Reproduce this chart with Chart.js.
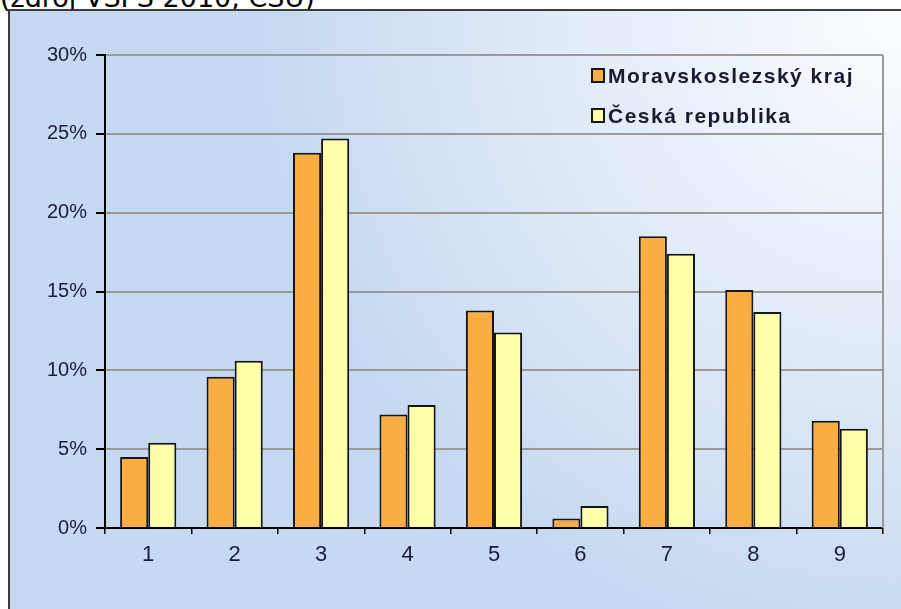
<!DOCTYPE html>
<html>
<head>
<meta charset="utf-8">
<script src="https://cdn.jsdelivr.net/npm/chart.js@4"></script>
<style>
  html, body { margin: 0; padding: 0; width: 901px; height: 609px; overflow: hidden; background: #fff; }
  #src {
    position: absolute; left: 0; top: -18px;
    font: 27px "DejaVu Sans", Verdana, sans-serif; color: #000; white-space: nowrap;
  }
  #box {
    position: absolute; left: 8px; top: 9px; width: 1000px; height: 700px;
    border-left: 2px solid #3c3c3c; border-top: 2px solid #3c3c3c;
    background: radial-gradient(circle at 893px 0px, #fbfdff 0px, #e6eef9 280px, #c6d9f0 640px);
  }
  #wrap { position: absolute; left: 0; top: 0; width: 901px; height: 609px; }
</style>
</head>
<body>
<div id="src">(zdroj VŠPS 2010, ČSÚ)</div>
<div id="box"></div>
<div id="wrap"><canvas id="chart" width="901" height="609"></canvas></div>
<script>
const categories = ["1", "2", "3", "4", "5", "6", "7", "8", "9"];
const seriesNames = ["Moravskoslezský kraj", "Česká republika"];
const moravskoslezsky = [4.5, 9.6, 23.8, 7.2, 13.8, 0.6, 18.5, 15.1, 6.8];
const ceskaRepublika = [5.4, 10.6, 24.7, 7.8, 12.4, 1.4, 17.4, 13.7, 6.3];
const yTicks = [0, 5, 10, 15, 20, 25, 30];

const orange = "#fcad40";
const paleYellow = "#ffffaa";
const outline = "#161616";
const tickText = "#1c1c38";
const sans = "'Liberation Sans', Arial, sans-serif";

// legend drawn inside the plot, top right, like the original
const innerLegend = {
  id: "innerLegend",
  afterDraw(chart) {
    const ctx = chart.ctx;
    const items = chart.data.datasets;
    ctx.save();
    ctx.font = "bold 21px " + sans;
    ctx.letterSpacing = "1.5px";
    ctx.textBaseline = "alphabetic";
    ctx.textAlign = "left";
    items.forEach((ds, i) => {
      const y = 69 + i * 40;
      ctx.fillStyle = ds.backgroundColor;
      ctx.fillRect(592, y, 12, 13);
      ctx.lineWidth = 2;
      ctx.strokeStyle = outline;
      ctx.strokeRect(592, y, 12, 13);
      ctx.fillStyle = "#1a1a30";
      ctx.fillText(ds.label, 608, y + 14);
    });
    ctx.restore();
  },
};

// grey right edge of the plot area
const plotFrame = {
  id: "plotFrame",
  beforeDatasetsDraw(chart) {
    const { ctx, chartArea } = chart;
    ctx.save();
    ctx.strokeStyle = "#9a9a9a";
    ctx.lineWidth = 2;
    ctx.beginPath();
    ctx.moveTo(chartArea.right, chartArea.top);
    ctx.lineTo(chartArea.right, chartArea.bottom);
    ctx.stroke();
    ctx.restore();
  },
};

new Chart(document.getElementById("chart"), {
  type: "bar",
  data: {
    labels: categories,
    datasets: [
      {
        label: seriesNames[0],
        data: moravskoslezsky,
        backgroundColor: orange,
        borderColor: outline,
        borderWidth: 2,
      },
      {
        label: seriesNames[1],
        data: ceskaRepublika,
        backgroundColor: paleYellow,
        borderColor: outline,
        borderWidth: 2,
      },
    ],
  },
  options: {
    responsive: false,
    animation: false,
    layout: { padding: { top: 55, right: 18, left: 0, bottom: 0 } },
    datasets: { bar: { categoryPercentage: 0.65, barPercentage: 1.0 } },
    scales: {
      x: {
        offset: true,
        grid: {
          offset: true,
          drawOnChartArea: false,
          tickLength: 6,
          color: "#000",
          lineWidth: 1.5,
        },
        border: { display: true, color: "#000", width: 2 },
        ticks: {
          color: tickText,
          padding: 8,
          font: { family: sans, size: 22 },
        },
        afterFit(scale) {
          scale.height = 81;
        },
      },
      y: {
        min: 0,
        max: 30,
        afterBuildTicks(scale) {
          scale.ticks = yTicks.map((v) => ({ value: v }));
        },
        grid: {
          color: "#9a9a9a",
          lineWidth: 2,
          tickLength: 9,
          tickColor: "#000",
        },
        border: { display: true, color: "#000", width: 2 },
        ticks: {
          color: tickText,
          padding: 9,
          font: { family: sans, size: 20 },
          callback: (v) => v + "%",
        },
        afterFit(scale) {
          scale.width = 105;
        },
      },
    },
    plugins: {
      legend: { display: false },
      tooltip: { enabled: false },
    },
  },
  plugins: [plotFrame, innerLegend],
});
</script>
</body>
</html>
